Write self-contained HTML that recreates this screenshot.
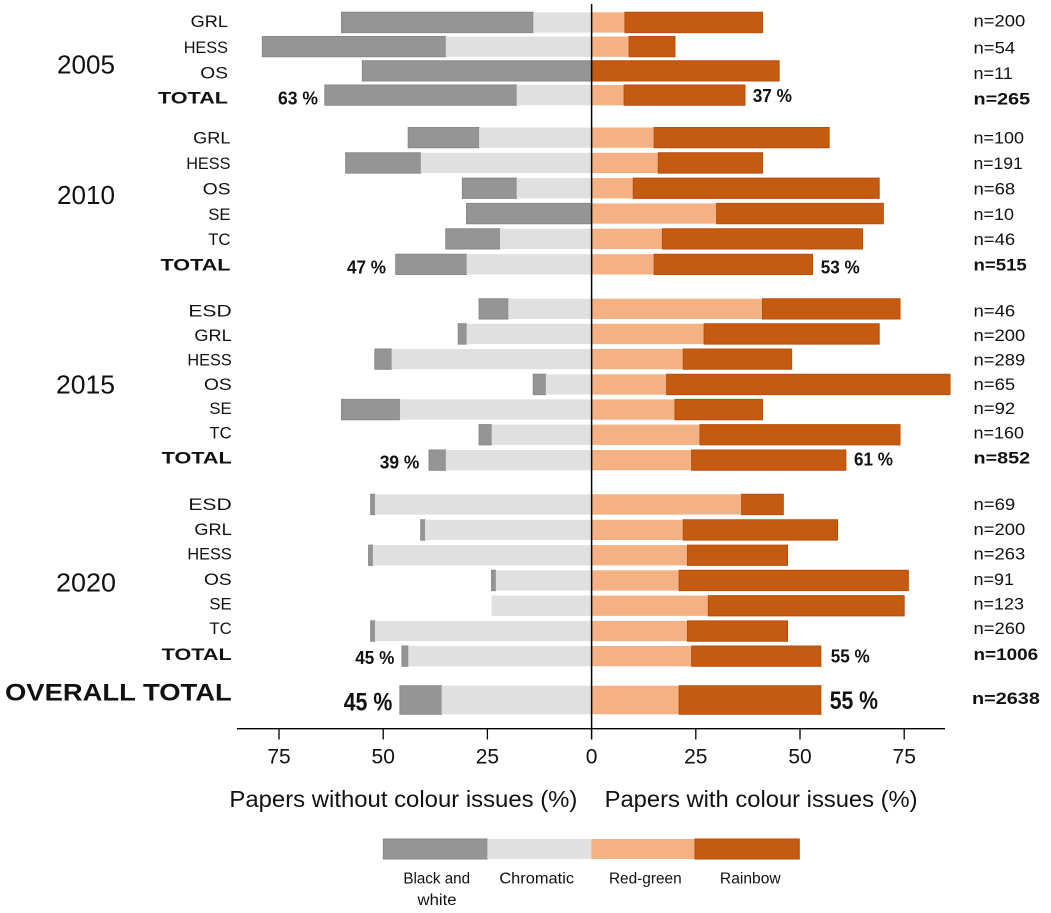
<!DOCTYPE html>
<html>
<head>
<meta charset="utf-8">
<style>
  html,body{margin:0;padding:0;background:#fff;}
  svg{display:block;}
  text{font-family:"Liberation Sans", sans-serif; fill:#111;}
  .b{font-weight:bold;}
</style>
</head>
<body>
<svg width="1051" height="913" viewBox="0 0 1051 913" xmlns="http://www.w3.org/2000/svg">
<rect x="0" y="0" width="1051" height="913" fill="#fff"/>

<!-- bars in data units: x = 591.6 + 4.168*u -->
<g transform="translate(591.6 0) scale(4.168 1)">
  <defs></defs>
  <g id="bars">
  <!-- 2005 -->
  <rect x="-60" y="12.3" width="46" height="20.3" fill="#959595" stroke="#888" stroke-width="1" vector-effect="non-scaling-stroke"/>
  <rect x="-14" y="12.3" width="14" height="20.3" fill="#e0e0e0"/>
  <rect x="0" y="12.3" width="8" height="20.3" fill="#f4b183"/>
  <rect x="8" y="12.3" width="33" height="20.3" fill="#c55a11" stroke="#b84f0b" stroke-width="1" vector-effect="non-scaling-stroke"/>

  <rect x="-79" y="36.5" width="44" height="20.3" fill="#959595" stroke="#888" stroke-width="1" vector-effect="non-scaling-stroke"/>
  <rect x="-35" y="36.5" width="35" height="20.3" fill="#e0e0e0"/>
  <rect x="0" y="36.5" width="9" height="20.3" fill="#f4b183"/>
  <rect x="9" y="36.5" width="11" height="20.3" fill="#c55a11" stroke="#b84f0b" stroke-width="1" vector-effect="non-scaling-stroke"/>

  <rect x="-55" y="60.7" width="55" height="20.3" fill="#959595" stroke="#888" stroke-width="1" vector-effect="non-scaling-stroke"/>
  <rect x="0" y="60.7" width="45" height="20.3" fill="#c55a11" stroke="#b84f0b" stroke-width="1" vector-effect="non-scaling-stroke"/>

  <rect x="-64" y="85" width="46" height="20.3" fill="#959595" stroke="#888" stroke-width="1" vector-effect="non-scaling-stroke"/>
  <rect x="-18" y="85" width="18" height="20.3" fill="#e0e0e0"/>
  <rect x="0" y="85" width="7.8" height="20.3" fill="#f4b183"/>
  <rect x="7.8" y="85" width="29" height="20.3" fill="#c55a11" stroke="#b84f0b" stroke-width="1" vector-effect="non-scaling-stroke"/>

  <!-- 2010 -->
  <rect x="-44" y="127.5" width="17" height="20.3" fill="#959595" stroke="#888" stroke-width="1" vector-effect="non-scaling-stroke"/>
  <rect x="-27" y="127.5" width="27" height="20.3" fill="#e0e0e0"/>
  <rect x="0" y="127.5" width="15" height="20.3" fill="#f4b183"/>
  <rect x="15" y="127.5" width="42" height="20.3" fill="#c55a11" stroke="#b84f0b" stroke-width="1" vector-effect="non-scaling-stroke"/>

  <rect x="-59" y="152.8" width="18" height="20.3" fill="#959595" stroke="#888" stroke-width="1" vector-effect="non-scaling-stroke"/>
  <rect x="-41" y="152.8" width="41" height="20.3" fill="#e0e0e0"/>
  <rect x="0" y="152.8" width="16" height="20.3" fill="#f4b183"/>
  <rect x="16" y="152.8" width="25" height="20.3" fill="#c55a11" stroke="#b84f0b" stroke-width="1" vector-effect="non-scaling-stroke"/>

  <rect x="-31" y="178.1" width="13" height="20.3" fill="#959595" stroke="#888" stroke-width="1" vector-effect="non-scaling-stroke"/>
  <rect x="-18" y="178.1" width="18" height="20.3" fill="#e0e0e0"/>
  <rect x="0" y="178.1" width="10" height="20.3" fill="#f4b183"/>
  <rect x="10" y="178.1" width="59" height="20.3" fill="#c55a11" stroke="#b84f0b" stroke-width="1" vector-effect="non-scaling-stroke"/>

  <rect x="-30" y="203.4" width="30" height="20.3" fill="#959595" stroke="#888" stroke-width="1" vector-effect="non-scaling-stroke"/>
  <rect x="0" y="203.4" width="30" height="20.3" fill="#f4b183"/>
  <rect x="30" y="203.4" width="40" height="20.3" fill="#c55a11" stroke="#b84f0b" stroke-width="1" vector-effect="non-scaling-stroke"/>

  <rect x="-35" y="228.7" width="13" height="20.3" fill="#959595" stroke="#888" stroke-width="1" vector-effect="non-scaling-stroke"/>
  <rect x="-22" y="228.7" width="22" height="20.3" fill="#e0e0e0"/>
  <rect x="0" y="228.7" width="17" height="20.3" fill="#f4b183"/>
  <rect x="17" y="228.7" width="48" height="20.3" fill="#c55a11" stroke="#b84f0b" stroke-width="1" vector-effect="non-scaling-stroke"/>

  <rect x="-47" y="254.2" width="17" height="20.3" fill="#959595" stroke="#888" stroke-width="1" vector-effect="non-scaling-stroke"/>
  <rect x="-30" y="254.2" width="30" height="20.3" fill="#e0e0e0"/>
  <rect x="0" y="254.2" width="15" height="20.3" fill="#f4b183"/>
  <rect x="15" y="254.2" width="38" height="20.3" fill="#c55a11" stroke="#b84f0b" stroke-width="1" vector-effect="non-scaling-stroke"/>

  <!-- 2015 -->
  <rect x="-27" y="298.7" width="7" height="20.3" fill="#959595" stroke="#888" stroke-width="1" vector-effect="non-scaling-stroke"/>
  <rect x="-20" y="298.7" width="20" height="20.3" fill="#e0e0e0"/>
  <rect x="0" y="298.7" width="41" height="20.3" fill="#f4b183"/>
  <rect x="41" y="298.7" width="33" height="20.3" fill="#c55a11" stroke="#b84f0b" stroke-width="1" vector-effect="non-scaling-stroke"/>

  <rect x="-32" y="323.8" width="2" height="20.3" fill="#959595" stroke="#888" stroke-width="1" vector-effect="non-scaling-stroke"/>
  <rect x="-30" y="323.8" width="30" height="20.3" fill="#e0e0e0"/>
  <rect x="0" y="323.8" width="27" height="20.3" fill="#f4b183"/>
  <rect x="27" y="323.8" width="42" height="20.3" fill="#c55a11" stroke="#b84f0b" stroke-width="1" vector-effect="non-scaling-stroke"/>

  <rect x="-52" y="349" width="4" height="20.3" fill="#959595" stroke="#888" stroke-width="1" vector-effect="non-scaling-stroke"/>
  <rect x="-48" y="349" width="48" height="20.3" fill="#e0e0e0"/>
  <rect x="0" y="349" width="22" height="20.3" fill="#f4b183"/>
  <rect x="22" y="349" width="26" height="20.3" fill="#c55a11" stroke="#b84f0b" stroke-width="1" vector-effect="non-scaling-stroke"/>

  <rect x="-14" y="374.3" width="3" height="20.3" fill="#959595" stroke="#888" stroke-width="1" vector-effect="non-scaling-stroke"/>
  <rect x="-11" y="374.3" width="11" height="20.3" fill="#e0e0e0"/>
  <rect x="0" y="374.3" width="18" height="20.3" fill="#f4b183"/>
  <rect x="18" y="374.3" width="68" height="20.3" fill="#c55a11" stroke="#b84f0b" stroke-width="1" vector-effect="non-scaling-stroke"/>

  <rect x="-60" y="399.4" width="14" height="20.3" fill="#959595" stroke="#888" stroke-width="1" vector-effect="non-scaling-stroke"/>
  <rect x="-46" y="399.4" width="46" height="20.3" fill="#e0e0e0"/>
  <rect x="0" y="399.4" width="20" height="20.3" fill="#f4b183"/>
  <rect x="20" y="399.4" width="21" height="20.3" fill="#c55a11" stroke="#b84f0b" stroke-width="1" vector-effect="non-scaling-stroke"/>

  <rect x="-27" y="424.6" width="3" height="20.3" fill="#959595" stroke="#888" stroke-width="1" vector-effect="non-scaling-stroke"/>
  <rect x="-24" y="424.6" width="24" height="20.3" fill="#e0e0e0"/>
  <rect x="0" y="424.6" width="26" height="20.3" fill="#f4b183"/>
  <rect x="26" y="424.6" width="48" height="20.3" fill="#c55a11" stroke="#b84f0b" stroke-width="1" vector-effect="non-scaling-stroke"/>

  <rect x="-39" y="450" width="4" height="20.3" fill="#959595" stroke="#888" stroke-width="1" vector-effect="non-scaling-stroke"/>
  <rect x="-35" y="450" width="35" height="20.3" fill="#e0e0e0"/>
  <rect x="0" y="450" width="24" height="20.3" fill="#f4b183"/>
  <rect x="24" y="450" width="37" height="20.3" fill="#c55a11" stroke="#b84f0b" stroke-width="1" vector-effect="non-scaling-stroke"/>

  <!-- 2020 -->
  <rect x="-53" y="494.3" width="1" height="20.3" fill="#959595" stroke="#888" stroke-width="1" vector-effect="non-scaling-stroke"/>
  <rect x="-52" y="494.3" width="52" height="20.3" fill="#e0e0e0"/>
  <rect x="0" y="494.3" width="36" height="20.3" fill="#f4b183"/>
  <rect x="36" y="494.3" width="10" height="20.3" fill="#c55a11" stroke="#b84f0b" stroke-width="1" vector-effect="non-scaling-stroke"/>

  <rect x="-41" y="519.8" width="1" height="20.3" fill="#959595" stroke="#888" stroke-width="1" vector-effect="non-scaling-stroke"/>
  <rect x="-40" y="519.8" width="40" height="20.3" fill="#e0e0e0"/>
  <rect x="0" y="519.8" width="22" height="20.3" fill="#f4b183"/>
  <rect x="22" y="519.8" width="37" height="20.3" fill="#c55a11" stroke="#b84f0b" stroke-width="1" vector-effect="non-scaling-stroke"/>

  <rect x="-53.5" y="545.1" width="1" height="20.3" fill="#959595" stroke="#888" stroke-width="1" vector-effect="non-scaling-stroke"/>
  <rect x="-52.5" y="545.1" width="52.5" height="20.3" fill="#e0e0e0"/>
  <rect x="0" y="545.1" width="23" height="20.3" fill="#f4b183"/>
  <rect x="23" y="545.1" width="24" height="20.3" fill="#c55a11" stroke="#b84f0b" stroke-width="1" vector-effect="non-scaling-stroke"/>

  <rect x="-24" y="570.3" width="1" height="20.3" fill="#959595" stroke="#888" stroke-width="1" vector-effect="non-scaling-stroke"/>
  <rect x="-23" y="570.3" width="23" height="20.3" fill="#e0e0e0"/>
  <rect x="0" y="570.3" width="21" height="20.3" fill="#f4b183"/>
  <rect x="21" y="570.3" width="55" height="20.3" fill="#c55a11" stroke="#b84f0b" stroke-width="1" vector-effect="non-scaling-stroke"/>

  <rect x="-24" y="595.6" width="24" height="20.3" fill="#e0e0e0"/>
  <rect x="0" y="595.6" width="28" height="20.3" fill="#f4b183"/>
  <rect x="28" y="595.6" width="47" height="20.3" fill="#c55a11" stroke="#b84f0b" stroke-width="1" vector-effect="non-scaling-stroke"/>

  <rect x="-53" y="620.9" width="1" height="20.3" fill="#959595" stroke="#888" stroke-width="1" vector-effect="non-scaling-stroke"/>
  <rect x="-52" y="620.9" width="52" height="20.3" fill="#e0e0e0"/>
  <rect x="0" y="620.9" width="23" height="20.3" fill="#f4b183"/>
  <rect x="23" y="620.9" width="24" height="20.3" fill="#c55a11" stroke="#b84f0b" stroke-width="1" vector-effect="non-scaling-stroke"/>

  <rect x="-45.5" y="646" width="1.5" height="20.3" fill="#959595" stroke="#888" stroke-width="1" vector-effect="non-scaling-stroke"/>
  <rect x="-44" y="646" width="44" height="20.3" fill="#e0e0e0"/>
  <rect x="0" y="646" width="24" height="20.3" fill="#f4b183"/>
  <rect x="24" y="646" width="31" height="20.3" fill="#c55a11" stroke="#b84f0b" stroke-width="1" vector-effect="non-scaling-stroke"/>

  <!-- overall -->
  <rect x="-46" y="685.7" width="10" height="28.6" fill="#959595" stroke="#888" stroke-width="1" vector-effect="non-scaling-stroke"/>
  <rect x="-36" y="685.7" width="36" height="28.6" fill="#e0e0e0"/>
  <rect x="0" y="685.7" width="21" height="28.6" fill="#f4b183"/>
  <rect x="21" y="685.7" width="34" height="28.6" fill="#c55a11" stroke="#b84f0b" stroke-width="1" vector-effect="non-scaling-stroke"/>
  </g>
</g>

<!-- zero line and axis -->
<line x1="591.6" y1="4" x2="591.6" y2="739.5" stroke="#000" stroke-width="1.5"/>
<line x1="237" y1="728.7" x2="945" y2="728.7" stroke="#000" stroke-width="1.3"/>
<g stroke="#000" stroke-width="1.3">
  <line x1="279" y1="728.7" x2="279" y2="739.5"/>
  <line x1="383.2" y1="728.7" x2="383.2" y2="739.5"/>
  <line x1="487.4" y1="728.7" x2="487.4" y2="739.5"/>
  <line x1="695.8" y1="728.7" x2="695.8" y2="739.5"/>
  <line x1="800" y1="728.7" x2="800" y2="739.5"/>
  <line x1="904.2" y1="728.7" x2="904.2" y2="739.5"/>
</g>
<g font-size="21" text-anchor="middle">
  <text x="279" y="763.3">75</text>
  <text x="383.2" y="763.3">50</text>
  <text x="487.4" y="763.3">25</text>
  <text x="591.6" y="763.3">0</text>
  <text x="695.8" y="763.3">25</text>
  <text x="800" y="763.3">50</text>
  <text x="904.2" y="763.3">75</text>
</g>
<text x="229.4" y="807" font-size="23" textLength="348" lengthAdjust="spacingAndGlyphs">Papers without colour issues (%)</text>
<text x="604.6" y="807" font-size="23" textLength="313" lengthAdjust="spacingAndGlyphs">Papers with colour issues (%)</text>

<!-- year labels -->
<g font-size="26">
  <text x="57" y="73.3" textLength="58" lengthAdjust="spacingAndGlyphs">2005</text>
  <text x="57" y="204" textLength="58" lengthAdjust="spacingAndGlyphs">2010</text>
  <text x="56" y="393.3" textLength="59" lengthAdjust="spacingAndGlyphs">2015</text>
  <text x="56" y="591.7" textLength="60" lengthAdjust="spacingAndGlyphs">2020</text>
</g>

<!-- row labels -->
<g font-size="17" text-anchor="end">
  <text x="228" y="27" textLength="37.3" lengthAdjust="spacingAndGlyphs">GRL</text>
  <text x="228" y="53" textLength="44.3" lengthAdjust="spacingAndGlyphs">HESS</text>
  <text x="228" y="78.5" textLength="27.7" lengthAdjust="spacingAndGlyphs">OS</text>
  <text x="228" y="103.5" class="b" textLength="70" lengthAdjust="spacingAndGlyphs">TOTAL</text>

  <text x="230.5" y="143.7" textLength="37.3" lengthAdjust="spacingAndGlyphs">GRL</text>
  <text x="230.5" y="169.2" textLength="44.3" lengthAdjust="spacingAndGlyphs">HESS</text>
  <text x="230.5" y="194.5" textLength="27.7" lengthAdjust="spacingAndGlyphs">OS</text>
  <text x="230.5" y="219.8" textLength="22.3" lengthAdjust="spacingAndGlyphs">SE</text>
  <text x="230.5" y="244.8" textLength="22.3" lengthAdjust="spacingAndGlyphs">TC</text>
  <text x="230.5" y="270.5" class="b" textLength="70" lengthAdjust="spacingAndGlyphs">TOTAL</text>

  <text x="231.7" y="316.7" textLength="43.3" lengthAdjust="spacingAndGlyphs">ESD</text>
  <text x="231.7" y="341" textLength="37.3" lengthAdjust="spacingAndGlyphs">GRL</text>
  <text x="231.7" y="365.3" textLength="44.3" lengthAdjust="spacingAndGlyphs">HESS</text>
  <text x="231.7" y="390" textLength="27.7" lengthAdjust="spacingAndGlyphs">OS</text>
  <text x="231.7" y="414" textLength="22.3" lengthAdjust="spacingAndGlyphs">SE</text>
  <text x="231.7" y="438.3" textLength="22.3" lengthAdjust="spacingAndGlyphs">TC</text>
  <text x="231.7" y="463.3" class="b" textLength="70" lengthAdjust="spacingAndGlyphs">TOTAL</text>

  <text x="231.7" y="510" textLength="43.3" lengthAdjust="spacingAndGlyphs">ESD</text>
  <text x="231.7" y="535" textLength="37.3" lengthAdjust="spacingAndGlyphs">GRL</text>
  <text x="231.7" y="559.3" textLength="44.3" lengthAdjust="spacingAndGlyphs">HESS</text>
  <text x="231.7" y="585" textLength="27.7" lengthAdjust="spacingAndGlyphs">OS</text>
  <text x="231.7" y="609.3" textLength="22.3" lengthAdjust="spacingAndGlyphs">SE</text>
  <text x="231.7" y="634" textLength="22.3" lengthAdjust="spacingAndGlyphs">TC</text>
  <text x="231.7" y="660" class="b" textLength="70" lengthAdjust="spacingAndGlyphs">TOTAL</text>
</g>
<text x="5" y="700.7" font-size="24" class="b" textLength="226.7" lengthAdjust="spacingAndGlyphs">OVERALL TOTAL</text>

<!-- percentage labels -->
<g font-size="18" class="b">
  <text x="318" y="104.3" text-anchor="end" textLength="40" lengthAdjust="spacingAndGlyphs">63 %</text>
  <text x="752.7" y="102" textLength="39.3" lengthAdjust="spacingAndGlyphs">37 %</text>
  <text x="386" y="273.3" text-anchor="end" textLength="39" lengthAdjust="spacingAndGlyphs">47 %</text>
  <text x="820.7" y="273.3" textLength="39" lengthAdjust="spacingAndGlyphs">53 %</text>
  <text x="419.3" y="468.3" text-anchor="end" textLength="39.6" lengthAdjust="spacingAndGlyphs">39 %</text>
  <text x="854" y="465.7" textLength="39" lengthAdjust="spacingAndGlyphs">61 %</text>
  <text x="394.3" y="664" text-anchor="end" textLength="39" lengthAdjust="spacingAndGlyphs">45 %</text>
  <text x="830.7" y="662.7" textLength="39" lengthAdjust="spacingAndGlyphs">55 %</text>
</g>
<g font-size="25" class="b">
  <text x="392.3" y="710.7" text-anchor="end" textLength="48.6" lengthAdjust="spacingAndGlyphs">45 %</text>
  <text x="829.7" y="709" textLength="48.3" lengthAdjust="spacingAndGlyphs">55 %</text>
</g>

<!-- n labels -->
<g font-size="17">
  <text x="973.5" y="26.7" textLength="51.7" lengthAdjust="spacingAndGlyphs">n=200</text>
  <text x="973.5" y="53.3" textLength="41.7" lengthAdjust="spacingAndGlyphs">n=54</text>
  <text x="973.5" y="79" textLength="39.3" lengthAdjust="spacingAndGlyphs">n=11</text>
  <text x="973.5" y="104.5" class="b" textLength="56.6" lengthAdjust="spacingAndGlyphs">n=265</text>

  <text x="973.5" y="143.7" textLength="50.5" lengthAdjust="spacingAndGlyphs">n=100</text>
  <text x="973.5" y="169.2" textLength="49.3" lengthAdjust="spacingAndGlyphs">n=191</text>
  <text x="973.5" y="194.5" textLength="41.7" lengthAdjust="spacingAndGlyphs">n=68</text>
  <text x="973.5" y="219.8" textLength="40.5" lengthAdjust="spacingAndGlyphs">n=10</text>
  <text x="973.5" y="244.8" textLength="41.7" lengthAdjust="spacingAndGlyphs">n=46</text>
  <text x="973.5" y="270.5" class="b" textLength="53.3" lengthAdjust="spacingAndGlyphs">n=515</text>

  <text x="973.5" y="316.7" textLength="41.7" lengthAdjust="spacingAndGlyphs">n=46</text>
  <text x="973.5" y="341" textLength="51.7" lengthAdjust="spacingAndGlyphs">n=200</text>
  <text x="973.5" y="365.3" textLength="51.7" lengthAdjust="spacingAndGlyphs">n=289</text>
  <text x="973.5" y="390" textLength="41.7" lengthAdjust="spacingAndGlyphs">n=65</text>
  <text x="973.5" y="414" textLength="41.7" lengthAdjust="spacingAndGlyphs">n=92</text>
  <text x="973.5" y="438.3" textLength="50.5" lengthAdjust="spacingAndGlyphs">n=160</text>
  <text x="973.5" y="463.3" class="b" textLength="56.6" lengthAdjust="spacingAndGlyphs">n=852</text>

  <text x="973.5" y="510" textLength="41.7" lengthAdjust="spacingAndGlyphs">n=69</text>
  <text x="973.5" y="535" textLength="51.7" lengthAdjust="spacingAndGlyphs">n=200</text>
  <text x="973.5" y="559.3" textLength="51.7" lengthAdjust="spacingAndGlyphs">n=263</text>
  <text x="973.5" y="585" textLength="40.5" lengthAdjust="spacingAndGlyphs">n=91</text>
  <text x="973.5" y="609.3" textLength="50.5" lengthAdjust="spacingAndGlyphs">n=123</text>
  <text x="973.5" y="634" textLength="51.7" lengthAdjust="spacingAndGlyphs">n=260</text>
  <text x="973.5" y="660" class="b" textLength="64.6" lengthAdjust="spacingAndGlyphs">n=1006</text>

  <text x="972" y="704" class="b" textLength="67.9" lengthAdjust="spacingAndGlyphs">n=2638</text>
</g>

<!-- legend -->
<rect x="383.3" y="839" width="104" height="20" fill="#959595" stroke="#888" stroke-width="1"/>
<rect x="487.3" y="839" width="104" height="20" fill="#e0e0e0"/>
<rect x="591.3" y="839" width="103.7" height="20" fill="#f4b183"/>
<rect x="695" y="839" width="104.3" height="20" fill="#c55a11" stroke="#b84f0b" stroke-width="1"/>
<g font-size="15.5" text-anchor="middle">
  <text x="436.7" y="883.3" textLength="66.7" lengthAdjust="spacingAndGlyphs">Black and</text>
  <text x="437" y="905" textLength="39" lengthAdjust="spacingAndGlyphs">white</text>
  <text x="536.7" y="883.3" textLength="74.7" lengthAdjust="spacingAndGlyphs">Chromatic</text>
  <text x="645.3" y="883.3" textLength="72.7" lengthAdjust="spacingAndGlyphs">Red-green</text>
  <text x="750.3" y="883.3" textLength="60.7" lengthAdjust="spacingAndGlyphs">Rainbow</text>
</g>
</svg>
</body>
</html>
